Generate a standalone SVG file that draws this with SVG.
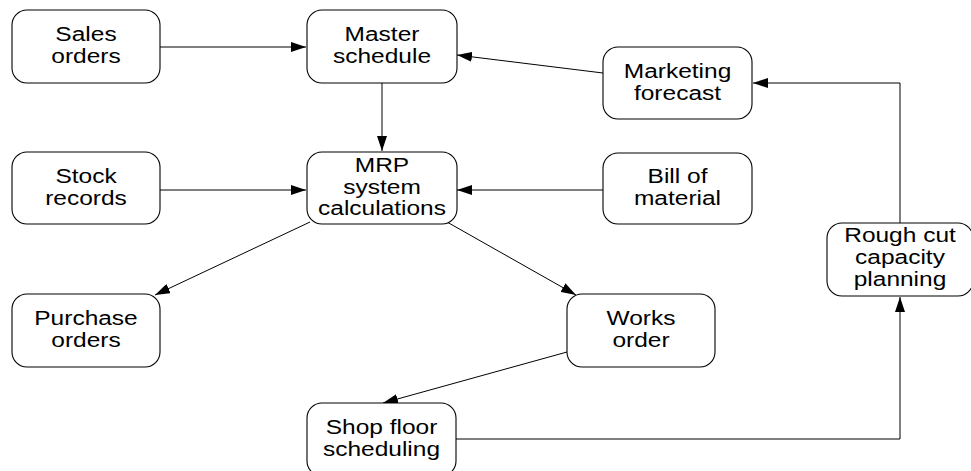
<svg xmlns="http://www.w3.org/2000/svg" width="971" height="471" viewBox="0 0 971 471">
<style>
.box{fill:#fff;stroke:#000;stroke-width:1.1}
.t{font-family:"Liberation Sans",Arial,sans-serif;font-size:24.5px;fill:#000;text-anchor:middle}
.c{fill:none;stroke:#000;stroke-width:1}
</style>
<defs>
<marker id="ah" viewBox="0 0 15 10" refX="15" refY="5" markerWidth="15" markerHeight="10" markerUnits="userSpaceOnUse" orient="auto">
<path d="M0,0 L15,5 L0,10 z" fill="#000"/>
</marker>
</defs>
<rect width="971" height="471" fill="#fff"/>
<g id="connectors">
<line class="c" x1="160" y1="47" x2="306" y2="47" marker-end="url(#ah)"/>
<line class="c" x1="382" y1="83" x2="382" y2="151" marker-end="url(#ah)"/>
<line class="c" x1="603" y1="73" x2="457" y2="55" marker-end="url(#ah)"/>
<line class="c" x1="160" y1="190" x2="306" y2="190" marker-end="url(#ah)"/>
<line class="c" x1="603" y1="190" x2="457" y2="190" marker-end="url(#ah)"/>
<line class="c" x1="310" y1="222" x2="155" y2="295" marker-end="url(#ah)"/>
<line class="c" x1="447" y1="222" x2="576" y2="295" marker-end="url(#ah)"/>
<line class="c" x1="567" y1="352" x2="383" y2="403" marker-end="url(#ah)"/>
<polyline class="c" points="456,439 900,439 900,297" marker-end="url(#ah)"/>
<polyline class="c" points="900,223 900,83 753,83" marker-end="url(#ah)"/>
</g>
<g id="sales-orders">
<rect class="box" x="12" y="10" width="148" height="73" rx="15"/>
<text class="t" transform="translate(86,40.5) scale(1,0.8)">Sales</text>
<text class="t" transform="translate(86,62.5) scale(1,0.8)">orders</text>
</g>
<g id="master-schedule">
<rect class="box" x="307" y="10" width="150" height="73" rx="15"/>
<text class="t" transform="translate(382,40.5) scale(1,0.8)">Master</text>
<text class="t" transform="translate(382,62.5) scale(1,0.8)">schedule</text>
</g>
<g id="marketing-forecast">
<rect class="box" x="603" y="47" width="149" height="72" rx="15"/>
<text class="t" transform="translate(677.5,77.5) scale(1,0.8)">Marketing</text>
<text class="t" transform="translate(677.5,99.5) scale(1,0.8)">forecast</text>
</g>
<g id="stock-records">
<rect class="box" x="12" y="152" width="148" height="72" rx="15"/>
<text class="t" transform="translate(86,182.5) scale(1,0.8)">Stock</text>
<text class="t" transform="translate(86,204.5) scale(1,0.8)">records</text>
</g>
<g id="mrp">
<rect class="box" x="307" y="152" width="150" height="72" rx="15"/>
<text class="t" transform="translate(382,172) scale(1,0.8)">MRP</text>
<text class="t" transform="translate(382,193.5) scale(1,0.8)">system</text>
<text class="t" transform="translate(382,215) scale(1,0.8)">calculations</text>
</g>
<g id="bill-of-material">
<rect class="box" x="603" y="153" width="149" height="71" rx="15"/>
<text class="t" transform="translate(677.5,183) scale(1,0.8)">Bill of</text>
<text class="t" transform="translate(677.5,205) scale(1,0.8)">material</text>
</g>
<g id="rough-cut">
<rect class="box" x="827" y="223" width="146" height="73" rx="15"/>
<text class="t" transform="translate(900,242) scale(1,0.8)">Rough cut</text>
<text class="t" transform="translate(900,264) scale(1,0.8)">capacity</text>
<text class="t" transform="translate(900,286) scale(1,0.8)">planning</text>
</g>
<g id="purchase-orders">
<rect class="box" x="12" y="294" width="148" height="73" rx="15"/>
<text class="t" transform="translate(86,324.5) scale(1,0.8)">Purchase</text>
<text class="t" transform="translate(86,346.5) scale(1,0.8)">orders</text>
</g>
<g id="works-order">
<rect class="box" x="567" y="294" width="148" height="73" rx="15"/>
<text class="t" transform="translate(641,324.5) scale(1,0.8)">Works</text>
<text class="t" transform="translate(641,346.5) scale(1,0.8)">order</text>
</g>
<g id="shop-floor">
<rect class="box" x="307" y="403" width="149" height="73" rx="15"/>
<text class="t" transform="translate(381.5,433.5) scale(1,0.8)">Shop floor</text>
<text class="t" transform="translate(381.5,455.5) scale(1,0.8)">scheduling</text>
</g>
</svg>
